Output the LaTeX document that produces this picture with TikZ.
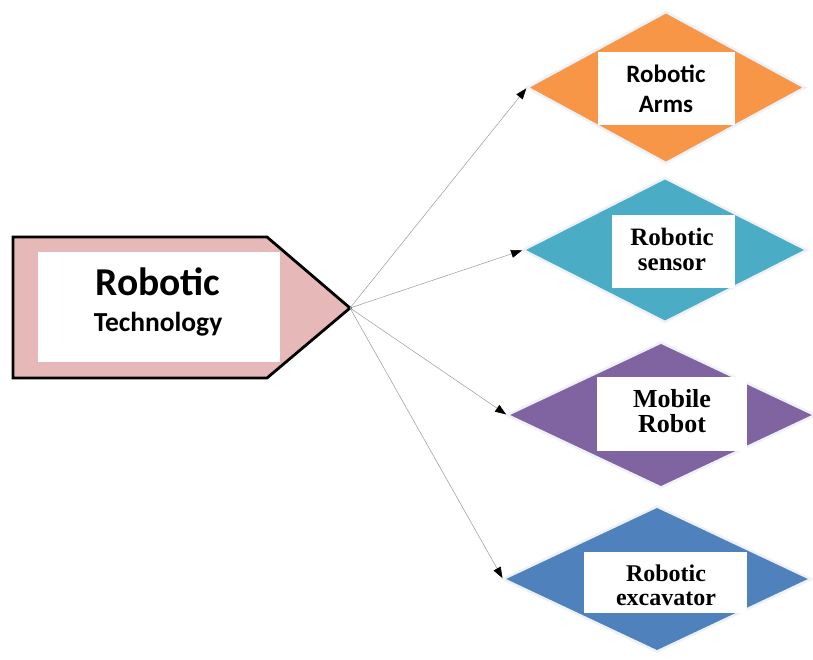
\documentclass[tikz,border=0pt]{standalone}
\usepackage{fontspec}
\usetikzlibrary{shapes.geometric,arrows.meta}
\newfontfamily\carlitofont{Carlito}
\newfontfamily\serifbold{Liberation Serif}
\definecolor{pinkfill}{HTML}{E6B9B8}
\definecolor{armsorange}{HTML}{F79646}
\definecolor{sensorteal}{HTML}{4BACC6}
\definecolor{mobilepurple}{HTML}{8064A2}
\definecolor{excavblue}{HTML}{4F81BD}
\definecolor{halo}{HTML}{EEF2F8}
\begin{document}
\begin{tikzpicture}[x=1pt,y=-1pt,
  gem/.style={diamond, draw=halo, line width=2.5pt, outer sep=0pt, inner sep=0pt},
  card/.style={fill=white, draw=none, inner sep=0pt, outer sep=0pt},
  sanslabel/.style={anchor=base, inner sep=0pt, font=\carlitofont\bfseries},
  seriflabel/.style={anchor=base, inner sep=0pt, font=\serifbold\bfseries},
  conn/.style={draw=black!40, line width=0.5pt, shorten >=1pt,
    -{Triangle[length=11pt,width=8pt,color=black]}}]
\useasboundingbox (0,0) rectangle (813,659);

% central pentagon tag
\draw[fill=pinkfill, line width=2.8pt, line join=miter]
  (13,237) -- (267,237) -- (350,308) -- (267,378) -- (13,378) -- cycle;
\coordinate (tip) at (350,308);
\node[card, minimum width=242pt, minimum height=110pt] (techcard) at (159,307) {};
\node[sanslabel, font=\carlitofont\bfseries\fontsize{39.5}{42}\selectfont] (tech1) at (158,295) {Robotic};
\node[sanslabel, font=\carlitofont\bfseries\fontsize{27.5}{30}\selectfont] (tech2) at (158,331) {Technology};

% four branch diamonds
\node[gem, fill=armsorange, minimum width=278pt, minimum height=151pt] (arms) at (666,87.5) {};
\node[gem, fill=sensorteal, minimum width=284pt, minimum height=144pt] (sensor) at (665,250) {};
\node[gem, fill=mobilepurple, minimum width=308pt, minimum height=145pt] (mobile) at (661,415) {};
\node[gem, fill=excavblue, minimum width=308pt, minimum height=145pt] (excav) at (657,579) {};

% white cards inside the diamonds
\node[card, minimum width=137pt, minimum height=73pt] (armscard) at (666.5,88.5) {};
\node[card, minimum width=123pt, minimum height=73pt] (sensorcard) at (673.5,251.5) {};
\node[card, minimum width=150pt, minimum height=74pt] (mobilecard) at (672,414) {};
\node[card, minimum width=163pt, minimum height=61pt] (excavcard) at (665.5,582.5) {};

% labels
\node[sanslabel, font=\carlitofont\bfseries\fontsize{25}{28}\selectfont] (arms1) at (666,82) {Robotic};
\node[sanslabel, font=\carlitofont\bfseries\fontsize{25}{28}\selectfont] (arms2) at (666,112) {Arms};
\node[seriflabel, font=\serifbold\bfseries\fontsize{25}{27}\selectfont] (sensor1) at (672,245) {Robotic};
\node[seriflabel, font=\serifbold\bfseries\fontsize{25}{27}\selectfont] (sensor2) at (672,270) {sensor};
\node[seriflabel, font=\serifbold\bfseries\fontsize{26}{28}\selectfont] (mobile1) at (672,407) {Mobile};
\node[seriflabel, font=\serifbold\bfseries\fontsize{26}{28}\selectfont] (mobile2) at (672,432) {Robot};
\node[seriflabel, font=\serifbold\bfseries\fontsize{24}{26}\selectfont] (excav1) at (666,581) {Robotic};
\node[seriflabel, font=\serifbold\bfseries\fontsize{24}{26}\selectfont] (excav2) at (666,605) {excavator};

% connectors from the tag's tip
\draw[conn] (tip) -- (arms.west);
\draw[conn] (tip) -- (sensor.west);
\draw[conn] (tip) -- (mobile.west);
\draw[conn] (tip) -- (excav.west);
\end{tikzpicture}
\end{document}
